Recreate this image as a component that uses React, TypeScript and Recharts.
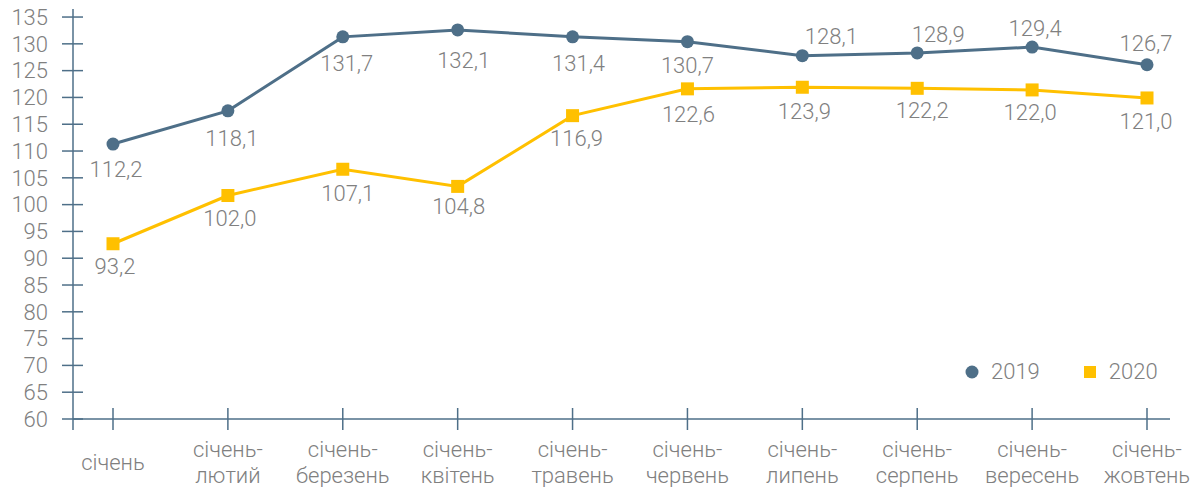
import React from "react";
import { LineChart, Line, XAxis, YAxis, Legend, LabelList } from "recharts";

const categories = [
  "січень",
  "січень-лютий",
  "січень-березень",
  "січень-квітень",
  "січень-травень",
  "січень-червень",
  "січень-липень",
  "січень-серпень",
  "січень-вересень",
  "січень-жовтень",
];
const values2019 = [111.3, 117.5, 131.3, 132.6, 131.3, 130.4, 127.8, 128.3, 129.4, 126.1];
const values2020 = [92.7, 101.7, 106.6, 103.4, 116.6, 121.6, 121.9, 121.7, 121.4, 119.9];
const labels2019 = ["112,2", "118,1", "131,7", "132,1", "131,4", "130,7", "128,1", "128,9", "129,4", "126,7"];
const labels2020 = ["93,2", "102,0", "107,1", "104,8", "116,9", "122,6", "123,9", "122,2", "122,0", "121,0"];
const yTicks = [60, 65, 70, 75, 80, 85, 90, 95, 100, 105, 110, 115, 120, 125, 130, 135];

// label placement (styling): offset of text centre from the point
const labelOffset2019: [number, number][] = [
  [3, 25], [4, 27], [4, 26], [6, 30], [6, 26], [0, 24], [29, -19], [21, -19], [3, -19], [-1, -22],
];
const labelOffset2020: [number, number][] = [
  [2, 22], [2, 23], [5, 24], [1, 20], [4, 23], [1, 25], [2, 24], [5, 22], [-2, 22], [-1, 23],
];

const AXIS = "#4e6f88";
const C2019 = "#4e6f88";
const C2020 = "#ffc000";
const TEXT = "#808080";
const FONT = "Roboto, 'Noto Sans', sans-serif";
const FS = 22;

const data = categories.map((c, i) => ({
  month: c,
  y2019: values2019[i],
  y2020: values2020[i],
  l2019: labels2019[i],
  l2020: labels2020[i],
}));

const YTick = (props: any) => {
  const { x, y, payload } = props;
  return (
    <g>
      <line x1={x - 11} x2={x + 10} y1={y} y2={y} stroke={AXIS} strokeWidth={1.5} />
      {payload.value === 60 && <line x1={x} x2={x} y1={y} y2={y + 11} stroke={AXIS} strokeWidth={1.5} />}
      <text
        x={x - 25}
        y={y + 7.8}
        textAnchor="end"
        fill={TEXT}
        fontSize={FS}
        fontFamily={FONT}
        fontWeight={300}
      >
        {payload.value}
      </text>
    </g>
  );
};

const XTick = (props: any) => {
  const { x, y, payload } = props;
  const s: string = payload.value;
  const idx = s.indexOf("-");
  const lines = idx >= 0 ? [s.slice(0, idx + 1), s.slice(idx + 1)] : [s];
  return (
    <g>
      <line x1={x} x2={x} y1={y - 11} y2={y + 11} stroke={AXIS} strokeWidth={1.5} />
      {lines.length === 1 ? (
        <text x={x} y={y + 51} textAnchor="middle" fill={TEXT} fontSize={FS} fontFamily={FONT} fontWeight={300}>
          {lines[0]}
        </text>
      ) : (
        <text textAnchor="middle" fill={TEXT} fontSize={FS} fontFamily={FONT} fontWeight={300}>
          <tspan x={x} y={y + 37.7}>{lines[0]}</tspan>
          <tspan x={x} y={y + 64.3}>{lines[1]}</tspan>
        </text>
      )}
    </g>
  );
};

const makeLabel = (offsets: [number, number][]) => (props: any) => {
  const { x, y, index, value } = props;
  const [dx, dy] = offsets[index] || [0, 0];
  return (
    <text
      x={x + dx}
      y={y + dy + 7.8}
      textAnchor="middle"
      fill={TEXT}
      fontSize={FS}
      fontFamily={FONT}
      fontWeight={300}
    >
      {value}
    </text>
  );
};

const CircleDot = (props: any) => {
  const { cx, cy } = props;
  if (cx == null || cy == null) return null;
  return <circle cx={cx} cy={cy} r={6.5} fill={C2019} />;
};

const SquareDot = (props: any) => {
  const { cx, cy } = props;
  if (cx == null || cy == null) return null;
  return <rect x={cx - 6.5} y={cy - 6.5} width={13} height={13} fill={C2020} />;
};

const renderLegend = (props: any) => {
  const { payload } = props;
  return (
    <div style={{ display: "flex", alignItems: "center", fontFamily: FONT, fontWeight: 300, fontSize: FS, color: TEXT, lineHeight: "26px" }}>
      {(payload || []).map((entry: any, i: number) => (
        <div key={i} style={{ display: "flex", alignItems: "center", marginLeft: i === 0 ? 0 : 42 }}>
          <svg width={16} height={16} style={{ marginRight: 11, display: "block" }}>
            {i === 0 ? (
              <circle cx={8} cy={8} r={6.5} fill={entry.color} />
            ) : (
              <rect x={2} y={2} width={12} height={12} fill={entry.color} />
            )}
          </svg>
          <span>{entry.value}</span>
        </div>
      ))}
    </div>
  );
};

export default function App() {
  return (
    <div style={{ position: "absolute", left: 0, top: 0 }}>
      <LineChart width={1198} height={487} data={data} margin={{ top: 9, right: 28, left: 0, bottom: 0 }}>
        <XAxis
          dataKey="month"
          interval={0}
          tickSize={0}
          tickMargin={0}
          tickLine={false}
          axisLine={{ stroke: AXIS, strokeWidth: 1.5 }}
          padding={{ left: 40, right: 23 }}
          height={68}
          tick={<XTick />}
        />
        <YAxis
          type="number"
          domain={[60, 136.5]}
          ticks={yTicks}
          interval={0}
          width={73}
          tickSize={0}
          tickMargin={0}
          tickLine={false}
          axisLine={{ stroke: AXIS, strokeWidth: 1.5 }}
          tick={<YTick />}
        />
        <Legend
          layout="vertical"
          verticalAlign="middle"
          align="center"
          content={renderLegend}
          wrapperStyle={{ left: 964, top: 359, width: 230, height: 26 }}
        />
        <Line
          name="2019"
          type="linear"
          dataKey="y2019"
          stroke={C2019}
          strokeWidth={3}
          dot={<CircleDot />}
          activeDot={false}
          isAnimationActive={false}
        >
          <LabelList dataKey="l2019" content={makeLabel(labelOffset2019)} />
        </Line>
        <Line
          name="2020"
          type="linear"
          dataKey="y2020"
          stroke={C2020}
          strokeWidth={3}
          dot={<SquareDot />}
          activeDot={false}
          isAnimationActive={false}
        >
          <LabelList dataKey="l2020" content={makeLabel(labelOffset2020)} />
        </Line>
      </LineChart>
    </div>
  );
}
